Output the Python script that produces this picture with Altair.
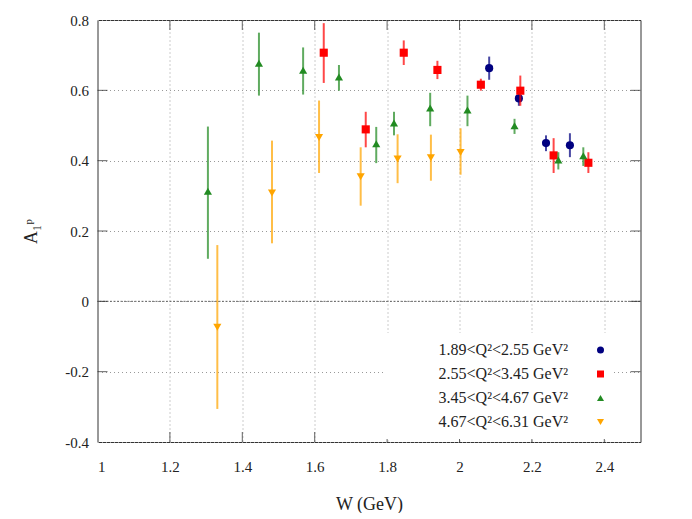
import altair as alt
import pandas as pd

FONT = "Liberation Serif, DejaVu Serif, serif"

series_labels = ["1.89<Q²<2.55 GeV²", "2.55<Q²<3.45 GeV²",
                 "3.45<Q²<4.67 GeV²", "4.67<Q²<6.31 GeV²"]
series_colors = ["#000080", "#ff0000", "#228b22", "#ffa500"]
series_shapes = ["circle", "square", "triangle-up", "triangle-down"]

# series 1: 1.89<Q2<2.55
w1 = [2.082, 2.164, 2.239, 2.305]
a1 = [0.663, 0.577, 0.450, 0.444]
lo1 = [0.630, 0.556, 0.427, 0.410]
hi1 = [0.696, 0.599, 0.472, 0.478]

# series 2: 2.55<Q2<3.45
w2 = [1.625, 1.741, 1.846, 1.939, 2.059, 2.168, 2.260, 2.356]
a2 = [0.707, 0.489, 0.707, 0.658, 0.616, 0.599, 0.415, 0.394]
lo2 = [0.621, 0.438, 0.672, 0.632, 0.599, 0.556, 0.365, 0.365]
hi2 = [0.791, 0.539, 0.742, 0.684, 0.633, 0.642, 0.464, 0.424]

# series 3: 3.45<Q2<4.67
w3 = [1.305, 1.446, 1.568, 1.667, 1.770, 1.819, 1.919, 2.022, 2.152, 2.273, 2.342]
a3 = [0.313, 0.677, 0.657, 0.638, 0.448, 0.507, 0.550, 0.544, 0.499, 0.402, 0.414]
lo3 = [0.121, 0.585, 0.588, 0.599, 0.393, 0.472, 0.498, 0.498, 0.476, 0.375, 0.385]
hi3 = [0.497, 0.764, 0.722, 0.672, 0.496, 0.539, 0.593, 0.585, 0.519, 0.424, 0.438]

# series 4: 4.67<Q2<6.31
w4 = [1.331, 1.482, 1.612, 1.727, 1.829, 1.921, 2.003]
a4 = [-0.074, 0.308, 0.466, 0.354, 0.405, 0.408, 0.423]
lo4 = [-0.306, 0.165, 0.365, 0.272, 0.336, 0.343, 0.360]
hi4 = [0.160, 0.457, 0.571, 0.438, 0.475, 0.474, 0.492]

x_ticks = [1, 1.2, 1.4, 1.6, 1.8, 2.0, 2.2, 2.4]
y_ticks = [-0.4, -0.2, 0, 0.2, 0.4, 0.6, 0.8]
x_inner_ticks = [1.2, 1.4, 1.6, 1.8, 2.0, 2.2, 2.4]
y_inner_ticks = [-0.2, 0, 0.2, 0.4, 0.6]

W_PLOT, H_PLOT = 543, 422

frames = []
for lab, w, a, lo, hi in zip(series_labels, [w1, w2, w3, w4], [a1, a2, a3, a4],
                             [lo1, lo2, lo3, lo4], [hi1, hi2, hi3, hi4]):
    frames.append(pd.DataFrame({"series": lab, "W": w, "A": a, "lo": lo, "hi": hi}))

xscale = alt.Scale(domain=[1, 2.5], nice=False, zero=False)
yscale = alt.Scale(domain=[-0.4, 0.8], nice=False, zero=False)

xaxis = alt.Axis(values=x_ticks, labelExpr="format(datum.value, '.1~f')",
                 title="W (GeV)", grid=True)
yaxis = alt.Axis(values=y_ticks,
                 labelExpr="datum.value == 0 ? '0' : (datum.value < 0 ? '-' : '') + format(abs(datum.value), '.1f')",
                 title="A₁ᵖ", grid=True)

legend = alt.Legend(
    orient="none", legendX=286, legendY=313, title=None,
    labelAlign="right", labelOffset={"expr": "-40.5"}, symbolOffset=200,
    symbolSize=49, symbolStrokeWidth=0,
    labelFont=FONT, labelFontSize=16, labelColor="#222", labelLimit=250,
    rowPadding=8, padding=9, fillColor="white",
)

color = alt.Color("series:N", scale=alt.Scale(domain=series_labels, range=series_colors),
                  legend=legend)
shape = alt.Shape("series:N", scale=alt.Scale(domain=series_labels, range=series_shapes),
                  legend=None)

layers = []
zero_line = alt.Chart(pd.DataFrame({"z": [0]})).mark_rule(
    color="#666", strokeDash=[2, 1.5], strokeWidth=1).encode(
    y=alt.Y("z:Q", scale=yscale, axis=yaxis))
layers.append(zero_line)

for df in frames:
    bars = alt.Chart(df).mark_rule(strokeWidth=2, strokeOpacity=0.72).encode(
        x=alt.X("W:Q", scale=xscale, axis=xaxis),
        y=alt.Y("lo:Q", scale=yscale, axis=yaxis),
        y2="hi:Q",
        color=color,
    )
    pts = alt.Chart(df).mark_point(filled=True, opacity=1, size=66).encode(
        x=alt.X("W:Q", scale=xscale, axis=xaxis),
        y=alt.Y("A:Q", scale=yscale, axis=yaxis),
        color=color, shape=shape,
    )
    layers += [bars, pts]

tick_color = "#222"
xt = pd.DataFrame({"v": x_inner_ticks})
yt = pd.DataFrame({"v": y_inner_ticks})
bottom_ticks = alt.Chart(xt).mark_tick(orient="vertical", size=10, thickness=1, color=tick_color).encode(
    x=alt.X("v:Q", scale=xscale, axis=xaxis), y=alt.value(H_PLOT - 5))
top_ticks = alt.Chart(xt).mark_tick(orient="vertical", size=10, thickness=1, color=tick_color).encode(
    x=alt.X("v:Q", scale=xscale, axis=xaxis), y=alt.value(5))
left_ticks = alt.Chart(yt).mark_tick(orient="horizontal", size=10, thickness=1, color=tick_color).encode(
    y=alt.Y("v:Q", scale=yscale, axis=yaxis), x=alt.value(5))
right_ticks = alt.Chart(yt).mark_tick(orient="horizontal", size=10, thickness=1, color=tick_color).encode(
    y=alt.Y("v:Q", scale=yscale, axis=yaxis), x=alt.value(W_PLOT - 5))
layers += [bottom_ticks, top_ticks, left_ticks, right_ticks]

chart = alt.layer(*layers).properties(
    width=W_PLOT, height=H_PLOT,
    autosize=alt.AutoSizeParams(type="none"),
    padding={"left": 89.5, "top": 12, "right": 40, "bottom": 71},
).configure_view(stroke="#333", strokeWidth=1).configure_axis(
    labelFont=FONT, labelFontSize=15, labelColor="#222",
    titleFont=FONT, titleFontSize=18, titleFontWeight="normal", titleColor="#222",
    ticks=False, domain=False,
    gridColor="#999", gridDash=[1, 3], gridWidth=1, gridOpacity=1,
).configure_axisX(labelPadding=17, titlePadding=21).configure_axisY(
    labelPadding=9, titlePadding=24)

chart.save("out.html", embed_options={"renderer": "svg", "actions": False})
